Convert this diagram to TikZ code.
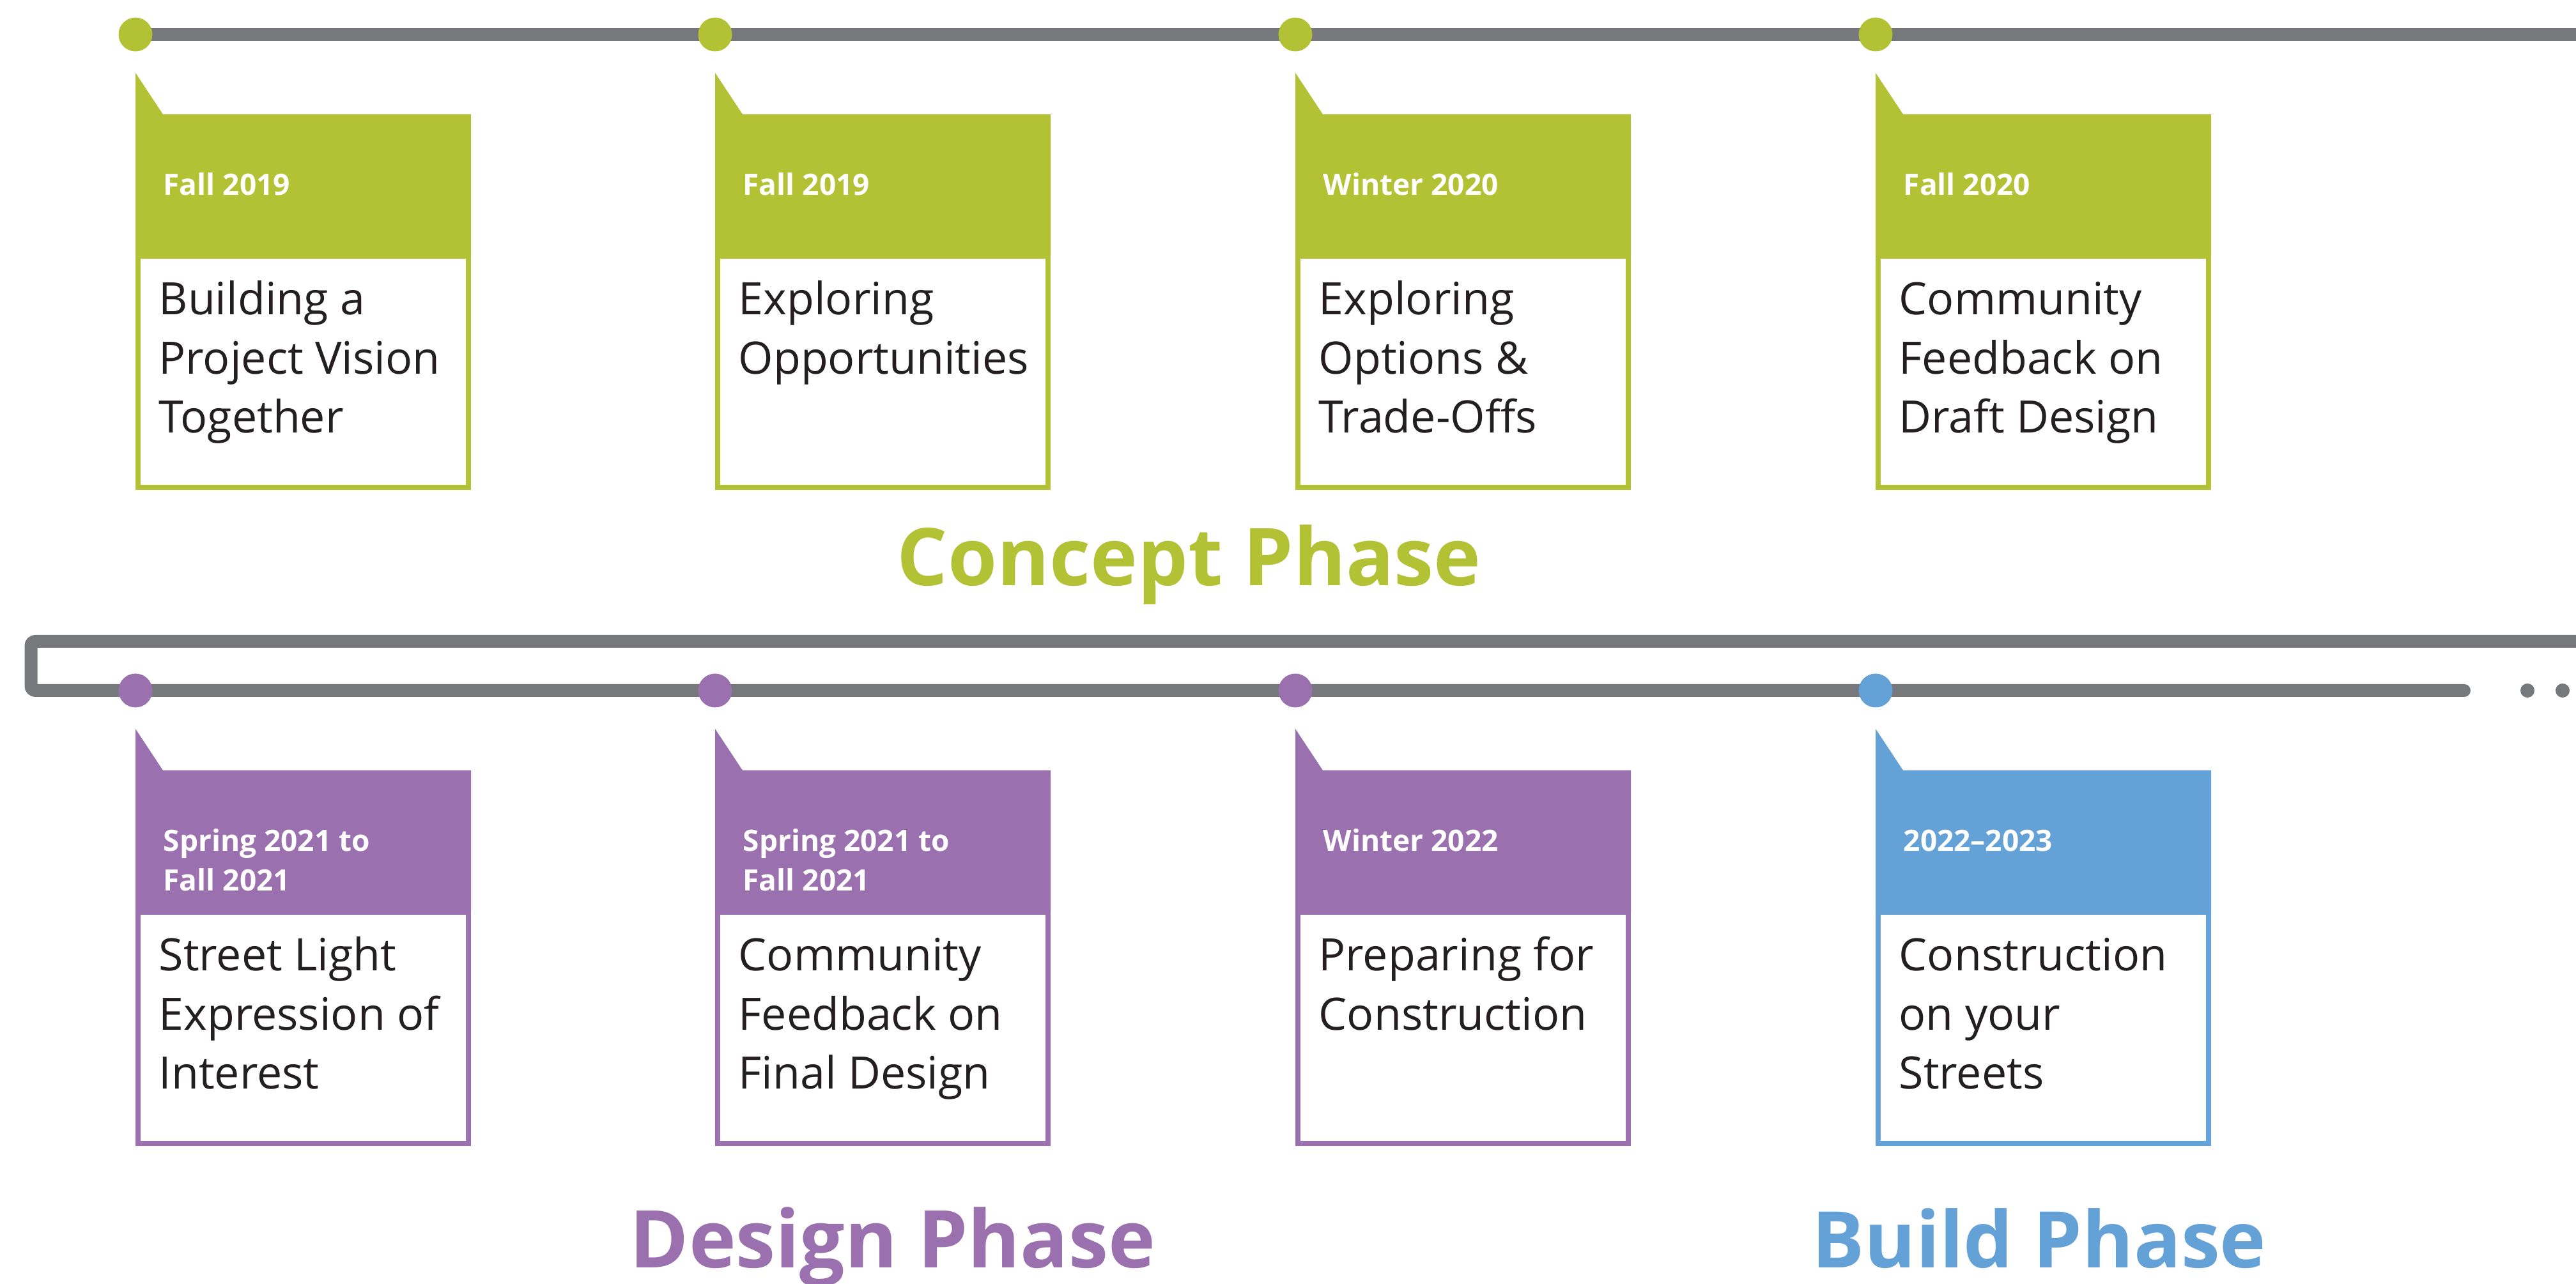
\documentclass[tikz,border=0pt]{standalone}
\usepackage{fontspec}
\setmainfont{Open Sans}
\usetikzlibrary{positioning}

\definecolor{concept}{HTML}{B3C235}
\definecolor{design}{HTML}{9B70AF}
\definecolor{build}{HTML}{64A1D6}
\definecolor{track}{HTML}{77787B}
\definecolor{ink}{HTML}{231F20}

% lines of a card, first baseline on the node's base
\newcommand{\cardlines}[1]{\begin{tabular}[t]{@{}l@{}}#1\end{tabular}}

\tikzset{
  track line/.style={draw=track, line width=0.2cm},
  stop dot/.style={circle, fill=#1, inner sep=0pt, minimum size=0.53cm},
  end dot/.style={circle, fill=track, inner sep=0pt, minimum size=0.22cm},
  date text/.style={anchor=base west, inner sep=0pt, text=white,
    font=\fontsize{13.1}{17.4}\selectfont\bfseries},
  card text/.style={anchor=base west, inner sep=0pt, text=ink,
    font=\fontsize{19.9}{26.2}\selectfont},
  phase text/.style={anchor=base west, inner sep=0pt, text=#1,
    font=\fontsize{35.5}{40}\selectfont\bfseries}
}

\begin{document}
\begin{tikzpicture}
    \useasboundingbox (0,0) rectangle (40.31,20.10);
    \clip (0,0) rectangle (40.31,20.10);

    % Stops on the track
    \foreach \i/\x/\y in {1/2.12/19.56, 2/11.19/19.56, 3/20.27/19.56, 4/29.35/19.56,
                          5/2.12/9.29, 6/11.19/9.29, 7/20.27/9.29, 8/29.35/9.29} {
      \coordinate (stop\i) at (\x,\y);
    }
    \coordinate (top end) at (40.6,19.56);
    \coordinate (turn right) at (40.6,10.06);
    \coordinate (turn left) at (0.485,10.06);
    \coordinate (turn low) at (0.485,9.29);
    \coordinate (low end) at (38.56,9.29);

    % Track
    \draw[track line] (stop1) -- (stop2) -- (stop3) -- (stop4) -- (top end);
    \draw[track line, rounded corners=2pt, line cap=round]
      (turn right) -- (turn left) -- (turn low) -- (stop5) -- (stop6) -- (stop7) -- (stop8) -- (low end);
    \node[end dot] (more1) at (39.55,9.29) {};
    \node[end dot] (more2) at (40.10,9.29) {};

    % Cards
    \foreach \i/\x/\y/\c/\when/\what in {
        1/2.12/19.56/concept/Fall 2019/{Building a\\Project Vision\\Together},
        2/11.19/19.56/concept/Fall 2019/{Exploring\\Opportunities},
        3/20.27/19.56/concept/Winter 2020/{Exploring\\Options \&\\Trade-Offs},
        4/29.35/19.56/concept/Fall 2020/{Community\\Feedback on\\Draft Design},
        5/2.12/9.29/design/{Spring 2021 to\\Fall 2021}/{Street Light\\Expression of\\Interest},
        6/11.19/9.29/design/{Spring 2021 to\\Fall 2021}/{Community\\Feedback on\\Final Design},
        7/20.27/9.29/design/Winter 2022/{Preparing for\\Construction},
        8/29.35/9.29/build/2022--2023/{Construction\\on your\\Streets}} {
      \node[stop dot=\c] (dot\i) at (stop\i) {};
      \fill[\c] (\x,\y-0.60) -- (\x+0.43,\y-1.25) -- (\x+5.25,\y-1.25)
        -- (\x+5.25,\y-3.47) -- (\x,\y-3.47) -- cycle;
      \draw[\c, line width=0.08cm] (\x+0.04,\y-3.47) rectangle (\x+5.21,\y-7.09);
      \node[date text] (when\i) at (\x+0.43,\y-2.52) {\cardlines{\when}};
      \node[card text] (what\i) at (\x+0.36,\y-4.39) {\cardlines{\what}};
    }

    % Phases
    \node[phase text=concept] (concept) at (14.03,10.93) {Concept Phase};
    \node[phase text=design] (design) at (9.85,0.25) {Design Phase};
    \node[phase text=build] (build) at (28.35,0.25) {\fontsize{34.8}{40}\selectfont Build Phase};
\end{tikzpicture}
\end{document}
